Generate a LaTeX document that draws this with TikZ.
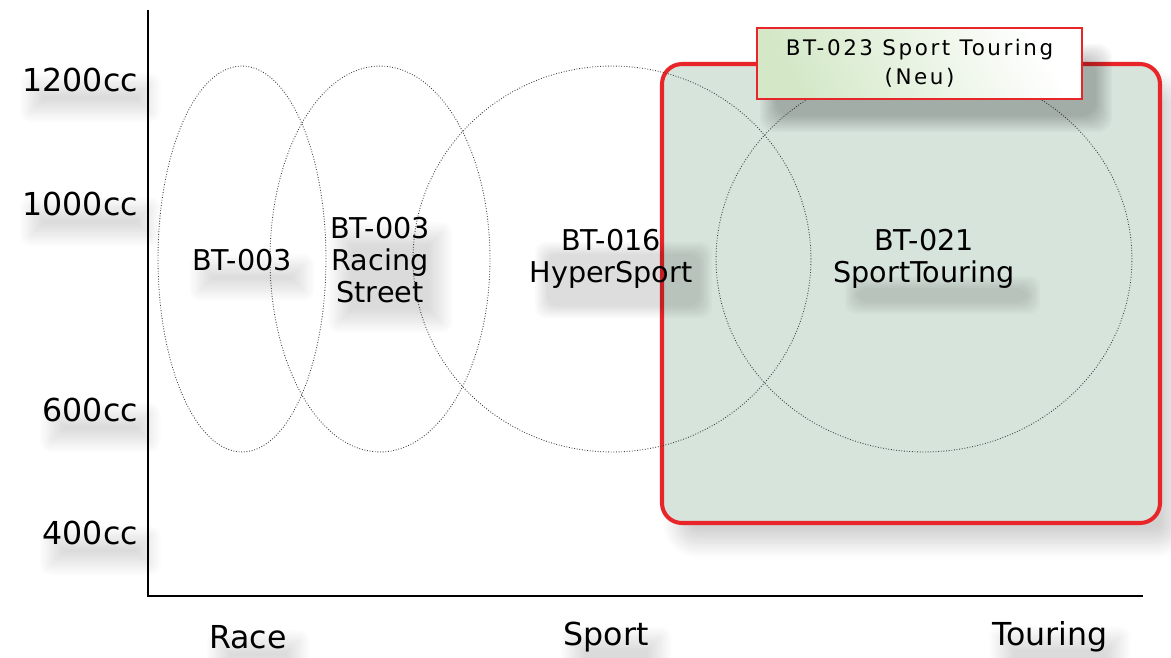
\documentclass[tikz,border=0pt]{standalone}
\usepackage{fontspec}
\setmainfont{DejaVu Sans}
\usetikzlibrary{shadows.blur}

\definecolor{frame}{RGB}{232,38,42}
\definecolor{zonefill}{RGB}{214,228,220}
\definecolor{tagfill}{RGB}{212,232,200}

\tikzset{
  soft/.style={blur shadow={shadow xshift=0.2cm, shadow yshift=-0.35cm, shadow opacity=14, shadow blur radius=0.25cm, shadow blur steps=20}},
  smudge/.style={black, opacity=0.02, rounded corners=6pt},
  model/.style={align=center, inner sep=1pt, font=\fontsize{16.3}{18.2}\selectfont},
  cc/.style={anchor=east, inner sep=1pt, font=\fontsize{18}{20}\selectfont, soft},
  usage/.style={inner sep=1pt, font=\fontsize{18}{20}\selectfont, soft},
  modelrange/.style={densely dotted, line width=0.5pt, black!75}
}

\begin{document}
\begin{tikzpicture}[x=0.02cm, y=-0.02cm]
    \useasboundingbox (0,0) rectangle (1171,657);

    % New segment zone
    \draw[frame, fill=zonefill, line width=2.3pt, rounded corners=0.4cm,
          blur shadow={shadow xshift=0.3cm, shadow yshift=-0.4cm, shadow opacity=18, shadow blur radius=0.3cm, shadow blur steps=20}]
        (662,64) rectangle (1160,523);

    % Axes
    \coordinate (top) at (148,10);
    \coordinate (origin) at (148,596);
    \coordinate (right) at (1143,596);
    \draw[line width=1.1pt] (top) -- (origin) -- (right);

    % Displacement labels
    \node[cc] (cc1200) at (140,80) {1200cc};
    \node[cc] (cc1000) at (140,204) {1000cc};
    \node[cc] (cc600) at (140,410) {600cc};
    \node[cc] (cc400) at (140,533) {400cc};

    % Usage labels
    \node[usage] (race) at (248,637) {Race};
    \node[usage] (sport) at (606,637) {Sport};
    \node[usage] (touring) at (1050,637) {Touring};

    % Model ranges
    \draw[modelrange] (242,259) ellipse [x radius=1.68cm, y radius=3.86cm];
    \draw[modelrange] (380,259) ellipse [x radius=2.2cm, y radius=3.86cm];
    \draw[modelrange] (612,259) ellipse [x radius=3.98cm, y radius=3.86cm];
    \draw[modelrange] (924,259) ellipse [x radius=4.16cm, y radius=3.86cm];

    % soft smudge under the names near the zone
    \foreach \s in {0,2,...,12} {
        \fill[smudge] (535+\s,242+\s) rectangle (712-\s,318-\s);
        \fill[smudge] (845+\s,276+\s) rectangle (1040-\s,314-\s);
    }

    % Model names
    \node[model, soft] (bt003) at (242,260) {BT-003};
    \node[model, soft] (bt003rs) at (380,260) {BT-003\\Racing\\Street};
    \node[model] (bt016) at (611,259) {BT-016\\HyperSport};
    \node[model] (bt021) at (924,259) {BT-021\\SportTouring};

    % Tag of the new model
    \foreach \s in {0,2,...,16}
        \fill[black, opacity=0.028, rounded corners=8pt] (760+\s,44+\s) rectangle (1112-\s,132-\s);
    \node[draw=frame, line width=1.4pt, left color=tagfill, right color=white, shading angle=120,
          minimum width=6.5cm, minimum height=1.42cm, align=center,
          font=\fontsize{12.2}{16.5}\selectfont\addfontfeatures{LetterSpace=12}]
        (bt023) at (919.5,63.5) {BT-023 Sport Touring\\(Neu)};
\end{tikzpicture}
\end{document}
